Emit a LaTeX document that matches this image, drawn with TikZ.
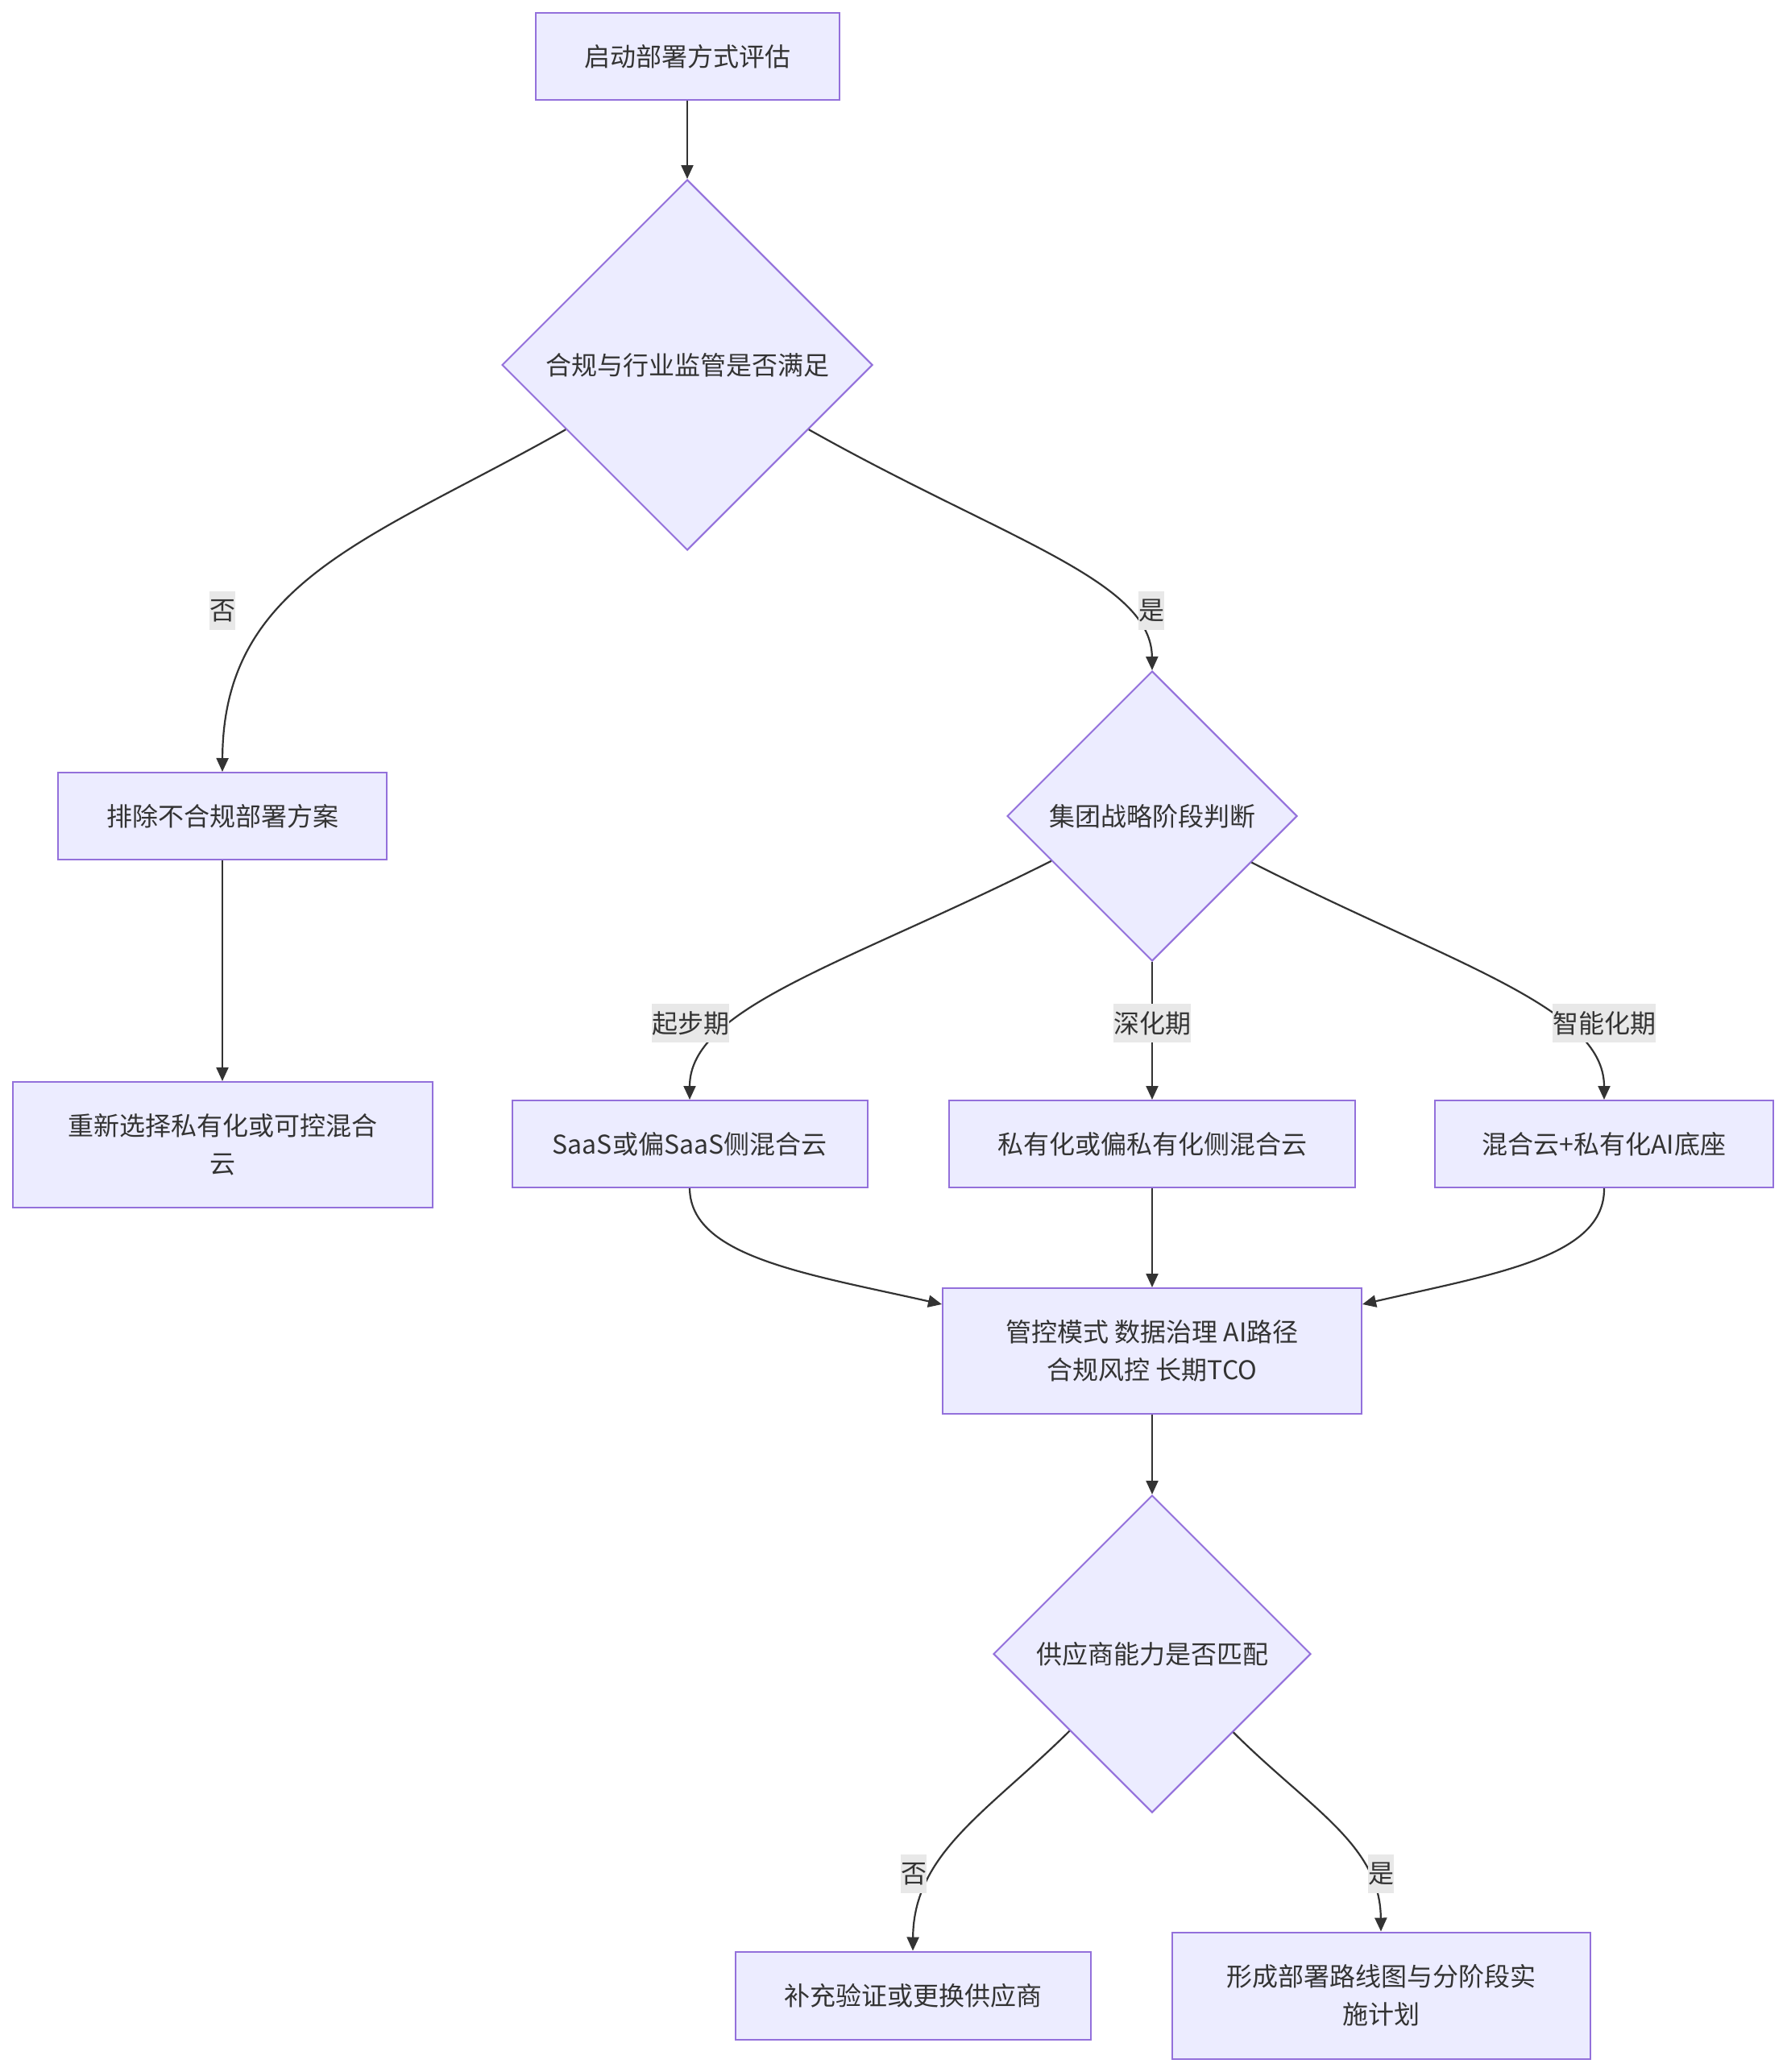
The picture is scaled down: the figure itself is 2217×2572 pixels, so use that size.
\documentclass[tikz,border=0pt]{standalone}
\usepackage{fontspec}
\setmainfont{Noto Sans CJK SC}
\usetikzlibrary{shapes.geometric,arrows.meta}
\definecolor{nodefill}{HTML}{ECECFF}
\definecolor{nodeline}{HTML}{9370DB}
\definecolor{ink}{HTML}{333333}
\definecolor{labelbg}{HTML}{E8E8E8}
\begin{document}
\begin{tikzpicture}[x=1pt,y=-1pt,
  every node/.style={font=\fontsize{32}{47}\selectfont, text=ink},
  box/.style={draw=nodeline, fill=nodefill, line width=2pt, rectangle, inner sep=0pt, align=center},
  decision/.style={draw=nodeline, fill=nodefill, line width=2pt, diamond, inner sep=0pt, aspect=1},
  elabel/.style={fill=labelbg, inner xsep=0pt, inner ysep=0pt, minimum height=48pt},
  link/.style={draw=ink, line width=2.2pt, -{Triangle[length=17pt,width=15pt]}},
]
\useasboundingbox (0,0) rectangle (2217,2572);
\fill[white] (0,0) rectangle (2217,2572);

\node[box, minimum width=377pt, minimum height=108pt] (start) at (853,70) {启动部署方式评估};
\node[decision, minimum width=460pt, minimum height=460pt] (d1) at (853,453) {合规与行业监管是否满足};
\node[box, minimum width=408pt, minimum height=108pt] (excl) at (276,1013) {排除不合规部署方案};
\node[box, minimum width=521pt, minimum height=156pt] (resel) at (276,1421) {重新选择私有化或可控混合\\云};
\node[decision, minimum width=360pt, minimum height=360pt] (d2) at (1430,1013) {集团战略阶段判断};
\node[box, minimum width=441pt, minimum height=108pt] (saas) at (856,1420) {SaaS或偏SaaS侧混合云};
\node[box, minimum width=504pt, minimum height=108pt] (priv) at (1430,1420) {私有化或偏私有化侧混合云};
\node[box, minimum width=420pt, minimum height=108pt] (hyb) at (1991,1420) {混合云+私有化AI底座};
\node[box, minimum width=520pt, minimum height=156pt] (gov) at (1430,1677) {管控模式 数据治理 AI路径\\合规风控 长期TCO};
\node[decision, minimum width=394pt, minimum height=394pt] (d3) at (1430,2053) {供应商能力是否匹配};
\node[box, minimum width=441pt, minimum height=109pt] (supp) at (1133,2477) {补充验证或更换供应商};
\node[box, minimum width=519pt, minimum height=157pt] (plan) at (1714,2477) {形成部署路线图与分阶段实\\施计划};

\draw[link] (start) -- (d1);
\draw[link] (d1.208) .. controls (462,669) and (277,720) .. (excl.north);
\draw[link] (d1.332) .. controls (1245,669) and (1429,720) .. (d2.north);
\draw[link] (excl) -- (resel);
\draw[link] (d2.204) .. controls (1052,1196) and (856,1250) .. (saas.north);
\draw[link] (d2) -- (priv);
\draw[link] (d2.335) .. controls (1800,1196) and (1991,1250) .. (hyb.north);
\draw[link] (saas.south) .. controls (857,1560) and (1000,1581) .. ([yshift=58pt]gov.west);
\draw[link] (priv) -- (gov);
\draw[link] (hyb.south) .. controls (1992,1560) and (1857,1581) .. ([yshift=58pt]gov.east);
\draw[link] (gov) -- (d3);
\draw[link] (d3.223) .. controls (1226,2249) and (1134,2300) .. (supp.north);
\draw[link] (d3.316) .. controls (1627,2246) and (1713,2290) .. (plan.north);

\node[elabel] (l1) at (276,758) {否};
\node[elabel] (l2) at (1429,758) {是};
\node[elabel] (l3) at (857,1270) {起步期};
\node[elabel] (l4) at (1430,1270) {深化期};
\node[elabel] (l5) at (1991,1270) {智能化期};
\node[elabel] (l6) at (1134,2326) {否};
\node[elabel] (l7) at (1714,2326) {是};
\end{tikzpicture}
\end{document}
